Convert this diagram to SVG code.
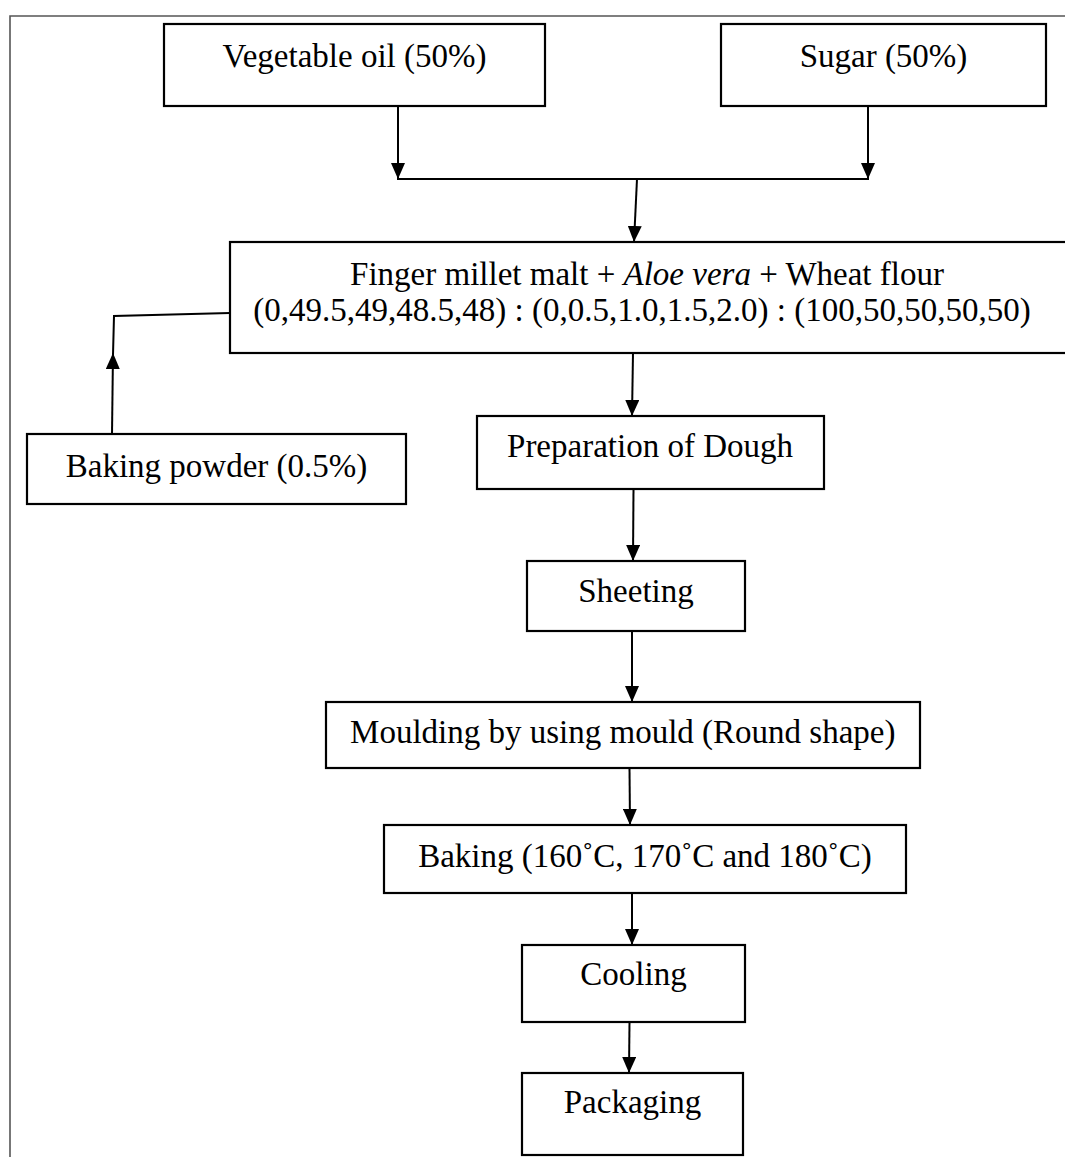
<svg xmlns="http://www.w3.org/2000/svg" width="1065" height="1157" viewBox="0 0 1065 1157">
<style>
.box{fill:#fff;stroke:#000;stroke-width:2.2}
.t{font-family:"Liberation Serif","Times New Roman",serif;font-size:33px;fill:#000;text-anchor:middle}
.c{fill:none;stroke:#000;stroke-width:2}
.frame{fill:none;stroke:#555;stroke-width:1.6}
</style>
<defs>
<marker id="ah" viewBox="0 0 16 14" markerWidth="16" markerHeight="14" refX="16" refY="7" orient="auto" markerUnits="userSpaceOnUse">
<path d="M0,0 L16,7 L0,14 z" fill="#000"/>
</marker>
</defs>
<rect width="1065" height="1157" fill="#fff"/>
<path class="frame" d="M10,1157 V16 H1065"/>

<g id="connectors">
<line class="c" x1="398" y1="106" x2="398" y2="179" marker-end="url(#ah)"/>
<line class="c" x1="868" y1="106" x2="868" y2="179" marker-end="url(#ah)"/>
<line class="c" x1="397" y1="179" x2="869" y2="179"/>
<line class="c" x1="637" y1="179" x2="634" y2="242" marker-end="url(#ah)"/>
<line class="c" x1="112" y1="434" x2="113" y2="353" marker-end="url(#ah)"/>
<polyline class="c" points="113,355 114,316 230,313"/>
<line class="c" x1="633" y1="353" x2="632" y2="416" marker-end="url(#ah)"/>
<line class="c" x1="633.5" y1="489" x2="633" y2="561" marker-end="url(#ah)"/>
<line class="c" x1="632" y1="631" x2="632" y2="702" marker-end="url(#ah)"/>
<line class="c" x1="629.5" y1="768" x2="630" y2="825" marker-end="url(#ah)"/>
<line class="c" x1="632" y1="893" x2="632" y2="945" marker-end="url(#ah)"/>
<line class="c" x1="629.5" y1="1022" x2="629" y2="1073" marker-end="url(#ah)"/>
</g>

<g id="veg">
<rect class="box" x="164" y="24" width="381" height="82"/>
<text class="t" x="354.5" y="67">Vegetable oil (50%)</text>
</g>
<g id="sugar">
<rect class="box" x="721" y="24" width="325" height="82"/>
<text class="t" x="883.5" y="67">Sugar (50%)</text>
</g>
<g id="mix">
<rect class="box" x="230" y="242" width="850" height="111"/>
<text class="t" x="647" y="285">Finger millet malt + <tspan font-style="italic">Aloe vera</tspan> + Wheat flour</text>
<text class="t" x="642" y="321">(0,49.5,49,48.5,48) : (0,0.5,1.0,1.5,2.0) : (100,50,50,50,50)</text>
</g>
<g id="bakingpowder">
<rect class="box" x="27" y="434" width="379" height="70"/>
<text class="t" x="216.5" y="477">Baking powder (0.5%)</text>
</g>
<g id="dough">
<rect class="box" x="477" y="416" width="347" height="73"/>
<text class="t" x="650" y="457">Preparation of Dough</text>
</g>
<g id="sheeting">
<rect class="box" x="527" y="561" width="218" height="70"/>
<text class="t" x="636" y="602">Sheeting</text>
</g>
<g id="moulding">
<rect class="box" x="326" y="702" width="594" height="66"/>
<text class="t" x="622.8" y="743">Moulding by using mould (Round shape)</text>
</g>
<g id="baking">
<rect class="box" x="384" y="825" width="522" height="68"/>
<text class="t" x="645" y="867">Baking (160˚C, 170˚C and 180˚C)</text>
</g>
<g id="cooling">
<rect class="box" x="522" y="945" width="223" height="77"/>
<text class="t" x="633.5" y="985">Cooling</text>
</g>
<g id="packaging">
<rect class="box" x="522" y="1073" width="221" height="82"/>
<text class="t" x="632.5" y="1113">Packaging</text>
</g>
</svg>
